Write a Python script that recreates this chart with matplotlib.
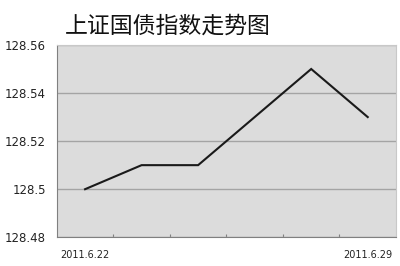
import matplotlib.pyplot as plt
import numpy as np

# 上证国债指数, 2011.6.22 - 2011.6.29 (trading days)
dates = ['2011.6.22', '', '', '', '', '2011.6.29']
index_vals = [128.50, 128.51, 128.51, 128.53, 128.55, 128.53]
yticks = [128.48, 128.50, 128.52, 128.54, 128.56]
ytick_labels = ['128.48', '128.5', '128.52', '128.54', '128.56']

plt.rcParams['font.family'] = ['Noto Sans CJK SC', 'DejaVu Sans']

fig = plt.figure(figsize=(4, 2.66), dpi=100)
ax = fig.add_axes([0.142, 0.108, 0.848, 0.723])
ax.set_facecolor('#dcdcdc')

x = np.arange(len(index_vals))
ax.plot(x, index_vals, color='#1a1a1a', lw=1.5, solid_joinstyle='miter')

ax.set_xlim(-0.5, len(index_vals) - 0.5)
ax.set_ylim(128.48, 128.56)
ax.set_yticks(yticks)
ax.set_yticklabels(ytick_labels, family='DejaVu Sans', fontsize=8.5, color='#222222')
ax.grid(axis='y', color='#a4a4a4', lw=1)
ax.set_axisbelow(True)

# category boundaries carry the small tick marks, labels sit at centres
ax.set_xticks(np.arange(0.5, len(index_vals) - 0.5), minor=False)
ax.set_xticklabels([])
ax.set_xticks(x, minor=True)
ax.set_xticklabels(dates, minor=True, family='DejaVu Sans', fontsize=7, color='#222222')
ax.tick_params(axis='x', which='major', direction='in', length=2, color='#808080')
ax.tick_params(axis='x', which='minor', length=0, pad=9)
ax.tick_params(axis='y', length=0, pad=8)

for s in ['left', 'bottom']:
    ax.spines[s].set_color('#808080')
for s in ['top', 'right']:
    ax.spines[s].set_color('#c8c8c8')

fig.text(0.42, 0.9, '上证国债指数走势图', ha='center', va='center', fontsize=16.5, color='#111111')

fig.savefig('out.png', dpi=100)
